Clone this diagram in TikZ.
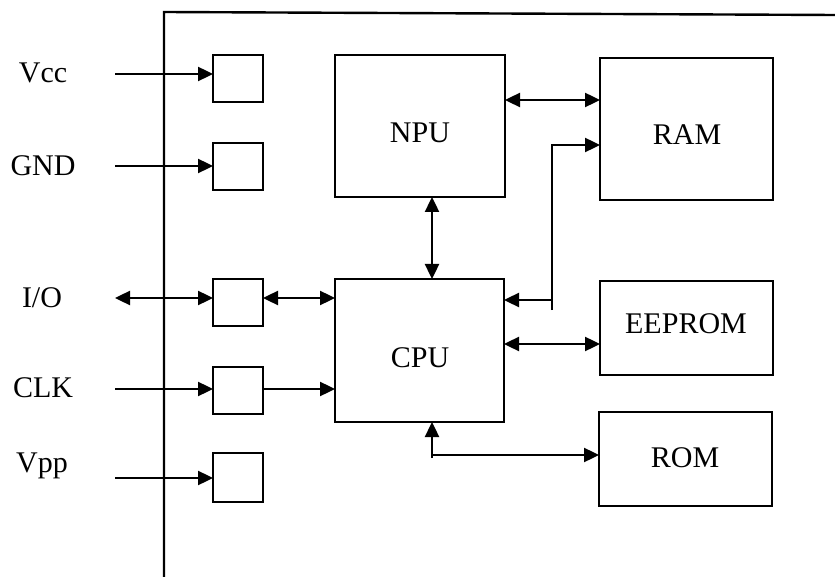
\documentclass[tikz,border=0pt]{standalone}
\usepackage{fontspec}
\setmainfont{Liberation Serif}
\usetikzlibrary{arrows.meta}
\begin{document}
\begin{tikzpicture}[x=1pt,y=-1pt,
  lw/.style={line width=2.4pt},
  blk/.style={draw,lw,inner sep=0pt,outer sep=0pt},
  pad/.style={blk,minimum width=50pt,minimum height=47pt},
  lbl/.style={inner sep=0pt,anchor=base,font=\fontsize{30}{34}\selectfont},
  conn/.style={lw,-{Triangle[length=15pt,width=14pt]}},
  biconn/.style={lw,{Triangle[length=15pt,width=14pt]}-{Triangle[length=15pt,width=14pt]}}]
\useasboundingbox (0,0) rectangle (835,577);
% frame
\coordinate (ftl) at (164,12);
\coordinate (ftr) at (835,15);
\coordinate (fbl) at (164,577);
\draw[lw] (ftr) -- (ftl) -- (fbl);
% pads
\node[pad] (vccpad) at (238,78.5) {};
\node[pad] (gndpad) at (238,166.5) {};
\node[pad] (iopad) at (238,302.5) {};
\node[pad] (clkpad) at (238,390.5) {};
\node[pad,minimum height=49pt] (vpppad) at (238,477.5) {};
% blocks
\node[blk,minimum width=170pt,minimum height=142pt] (npu) at (420,126) {};
\node[blk,minimum width=173pt,minimum height=142pt] (ram) at (686.5,129) {};
\node[blk,minimum width=169pt,minimum height=143pt] (cpu) at (419.5,350.5) {};
\node[blk,minimum width=173pt,minimum height=94pt] (eeprom) at (686.5,328) {};
\node[blk,minimum width=173pt,minimum height=94pt] (rom) at (685.5,459) {};
% labels
\node[lbl] (lnpu) at (420,143) {NPU};
\node[lbl] (lram) at (687,145) {RAM};
\node[lbl] (lcpu) at (420,367) {CPU};
\node[lbl] (leeprom) at (686,333) {EEPROM};
\node[lbl] (lrom) at (685,467) {ROM};
\node[lbl] (lvcc) at (43,83) {Vcc};
\node[lbl] (lgnd) at (43,176) {GND};
\node[lbl] (lio) at (42,308) {I/O};
\node[lbl] (lclk) at (43,397) {CLK};
\node[lbl] (lvpp) at (42,472) {Vpp};
% pin inputs
\coordinate (vccin) at (115,74);
\coordinate (gndin) at (115,166);
\coordinate (ioin) at (115,298);
\coordinate (clkin) at (115,389);
\coordinate (vppin) at (115,478);
\draw[conn] (vccin) -- (vccin -| vccpad.west);
\draw[conn] (gndin) -- (gndin -| gndpad.west);
\draw[biconn] (ioin) -- (ioin -| iopad.west);
\draw[conn] (clkin) -- (clkin -| clkpad.west);
\draw[conn] (vppin) -- (vppin -| vpppad.west);
\draw[biconn] (iopad.east |- ioin) -- (cpu.west |- ioin);
\draw[conn] (clkpad.east |- clkin) -- (cpu.west |- clkin);
% internal connections
\draw[biconn] (npu.east |- 0,100) -- (ram.west |- 0,100);
\draw[biconn] (npu.south -| 432,0) -- (cpu.north -| 432,0);
\coordinate (bus) at (552,310);
\draw[conn] (bus) |- (ram.west |- 0,145);
\draw[conn] (bus |- 0,300) -- (cpu.east |- 0,300);
\draw[biconn] (cpu.east |- 0,344) -- (eeprom.west |- 0,344);
\coordinate (romtail) at (432,458);
\draw[biconn] (cpu.south -| 432,0) |- (rom.west |- 0,455);
\draw[lw] (romtail) -- (romtail |- 0,455);
\end{tikzpicture}
\end{document}
